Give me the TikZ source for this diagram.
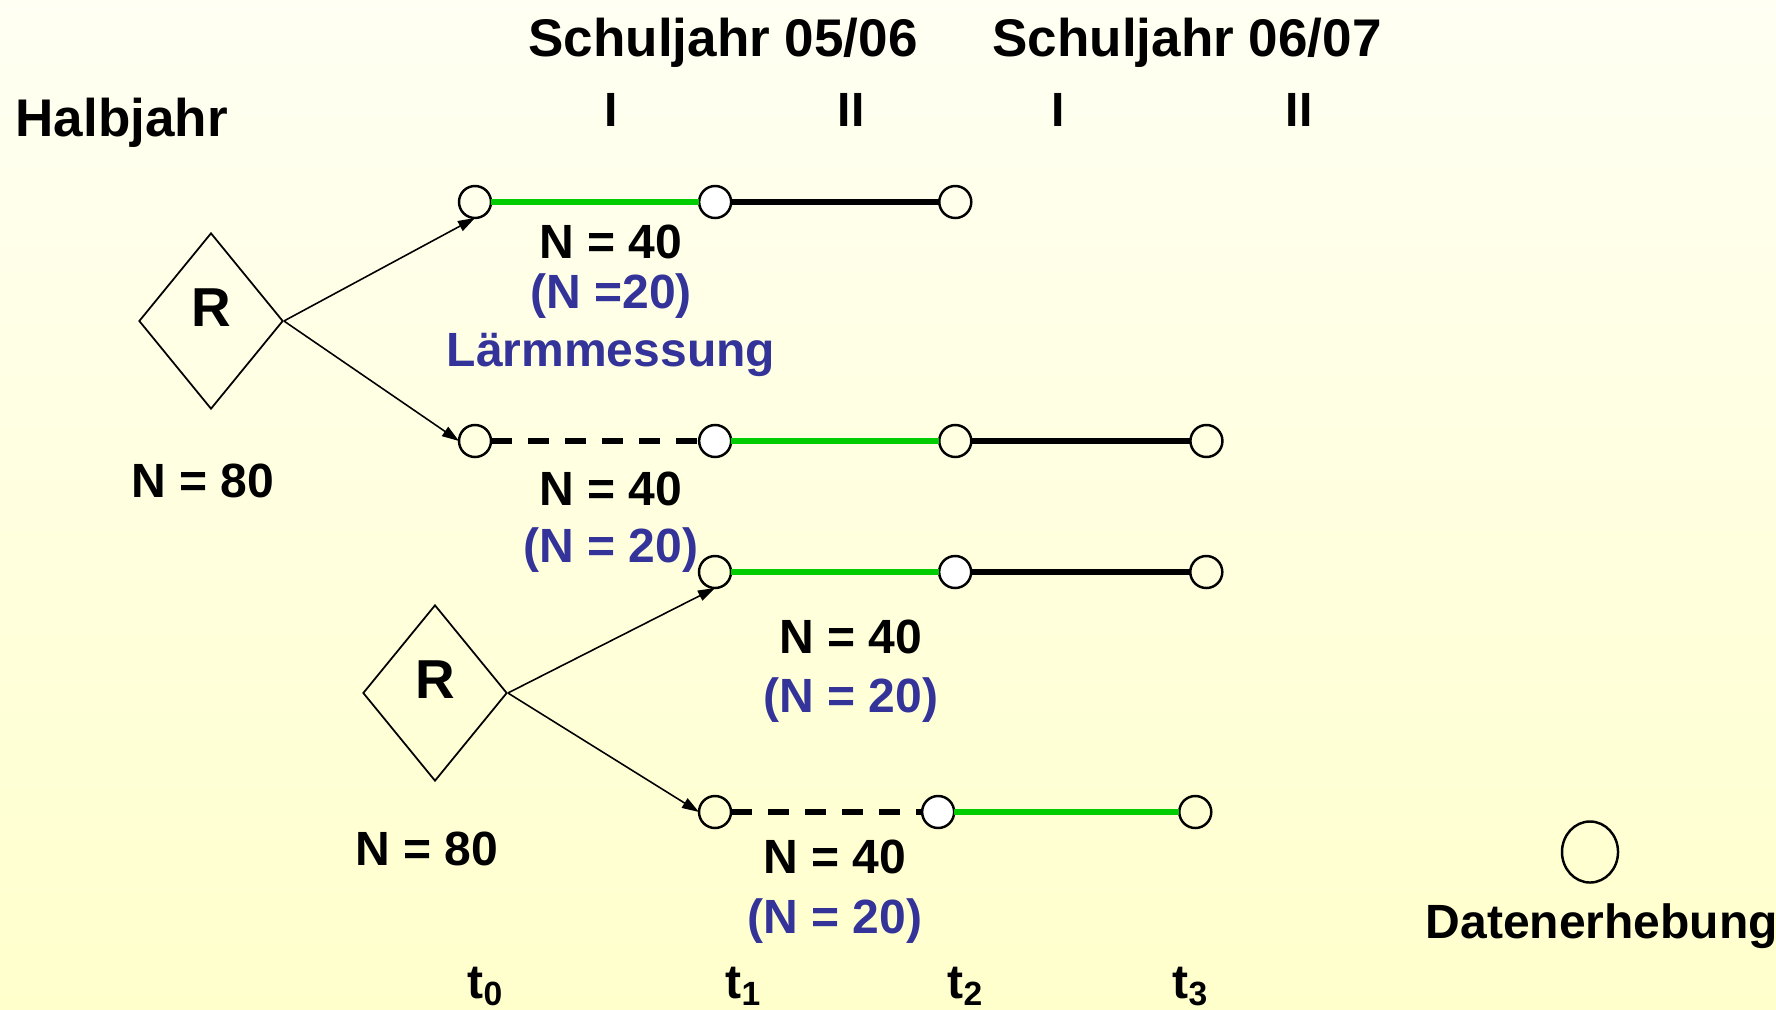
\documentclass[tikz,border=0pt]{standalone}
\usepackage{fontspec}
\setmainfont{Liberation Sans}
\usetikzlibrary{positioning}
\usetikzlibrary{arrows.meta}
\usetikzlibrary{shapes.geometric}
\definecolor{bluetext}{RGB}{51,51,153}
\definecolor{greenline}{RGB}{0,204,0}
\definecolor{bgtop}{RGB}{255,255,243}
\definecolor{bgbottom}{RGB}{255,255,204}
\tikzset{
  datapoint/.style= {
    circle,
    draw = black,
    line width = 0.7pt,
    minimum size = 0.32cm,
    inner sep = 0pt,
    outer sep = 0pt
  },
  filledpoint/.style= {
    datapoint,
    fill = white
  },
  randbox/.style= {
    diamond,
    draw = black,
    line width = 0.5pt,
    minimum width = 1.44cm,
    minimum height = 1.76cm,
    inner sep = 0pt
  },
  rlabel/.style= {
    font = \fontsize{15.6}{18}\selectfont\bfseries,
    inner sep = 0pt,
    yshift = 0.13cm
  },
  numtext/.style= {
    font = \fontsize{13.66}{16}\selectfont\bfseries,
    inner sep = 0pt,
    anchor = base
  },
  subtext/.style= {
    numtext,
    text = bluetext
  },
  headtext/.style= {
    font = \fontsize{15.08}{18}\selectfont\bfseries,
    inner sep = 0pt,
    anchor = base
  },
  phase/.style= {line width = 1.5pt, draw = greenline},
  followup/.style= {line width = 1.5pt, draw = black},
  waiting/.style= {line width = 1.5pt, draw = black, dash pattern = on 0.21cm off 0.16cm},
  splitarrow/.style= {-{Triangle[length=0.17cm,width=0.11cm]}, line width = 0.45pt}
}

\begin{document}
\begin{tikzpicture}[x=0.01cm, y=-0.01cm]
  \useasboundingbox (0,0) rectangle (1776,1009);
  \shade[top color=bgtop, bottom color=bgbottom] (0,0) rectangle (1776,1009);

  \node[headtext] (sj1) at (723,56) {Schuljahr 05/06};
  \node[headtext] (sj2) at (1187,56) {Schuljahr 06/07};
  \node[headtext, anchor=base west] (hj) at (15,136) {Halbjahr};
  \node[numtext] (hj1) at (611,126) {I};
  \node[numtext] (hj2) at (851,126) {II};
  \node[numtext] (hj3) at (1058,126) {I};
  \node[numtext] (hj4) at (1299,126) {II};

  \node[randbox, label={[rlabel]center:R}] (rand1) at (211,321) {};
  \node[randbox, label={[rlabel]center:R}] (rand2) at (435,693) {};
  \node[numtext] (n1) at (203,497) {N = 80};
  \node[numtext] (n2) at (427,865) {N = 80};

  \node[datapoint] (c11) at (475,202) {};
  \node[filledpoint, right=2.08cm of c11] (c12) {};
  \node[datapoint, right=2.08cm of c12] (c13) {};

  \node[datapoint] (c21) at (475,441) {};
  \node[filledpoint, right=2.08cm of c21] (c22) {};
  \node[datapoint, right=2.08cm of c22] (c23) {};
  \node[datapoint, right=2.19cm of c23] (c24) {};

  \node[datapoint] (c31) at (715,572) {};
  \node[filledpoint, right=2.08cm of c31] (c32) {};
  \node[datapoint, right=2.19cm of c32] (c33) {};

  \node[datapoint] (c41) at (715,812) {};
  \node[filledpoint, right=1.91cm of c41] (c42) {};
  \node[datapoint, right=2.25cm of c42] (c43) {};

  \draw[phase] (c11) -- (c12);
  \draw[followup] (c12) -- (c13);
  \draw[waiting] (c21) -- (c22);
  \draw[phase] (c22) -- (c23);
  \draw[followup] (c23) -- (c24);
  \draw[phase] (c31) -- (c32);
  \draw[followup] (c32) -- (c33);
  \draw[waiting] (c41) -- (c42);
  \draw[phase] (c42) -- (c43);

  \draw[splitarrow] (rand1.east) -- (c11.south);
  \draw[splitarrow] (rand1.east) -- (c21.west);
  \draw[splitarrow] (rand2.east) -- (c31.south);
  \draw[splitarrow] (rand2.east) -- (c41.west);

  \node[numtext] (g1) at (611,258) {N = 40};
  \node[subtext] (g1s) at (611,308) {(N =20)};
  \node[subtext] (g1m) at (611,366) {Lärmmessung};
  \node[numtext] (g2) at (611,505) {N = 40};
  \node[subtext] (g2s) at (611,562) {(N = 20)};
  \node[numtext] (g3) at (851,653) {N = 40};
  \node[subtext] (g3s) at (851,712) {(N = 20)};
  \node[numtext] (g4) at (835,873) {N = 40};
  \node[subtext] (g4s) at (835,933) {(N = 20)};

  \node[numtext, anchor=base west] (t0) at (467,998) {t\textsubscript{0}};
  \node[numtext, anchor=base west] (t1) at (725,998) {t\textsubscript{1}};
  \node[numtext, anchor=base west] (t2) at (947,998) {t\textsubscript{2}};
  \node[numtext, anchor=base west] (t3) at (1172,998) {t\textsubscript{3}};

  \node[ellipse, draw=black, line width=0.7pt, minimum width=0.56cm, minimum height=0.61cm, inner sep=0pt] (legendpoint) at (1590,852) {};
  \node[numtext, anchor=base west] (legendtext) at (1425,938) {Datenerhebung};

\end{tikzpicture}
\end{document}
